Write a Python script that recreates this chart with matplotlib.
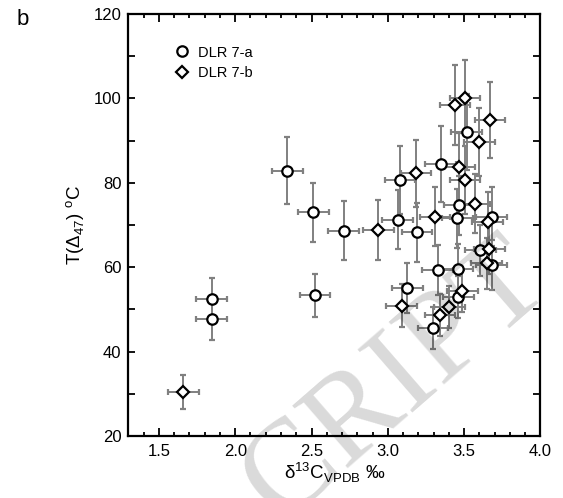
import matplotlib
matplotlib.use("Agg")
import matplotlib.pyplot as plt
from matplotlib.ticker import MultipleLocator, FormatStrFormatter
from matplotlib.lines import Line2D

plt.rcParams['font.family'] = ['Liberation Sans', 'DejaVu Sans']

# DLR 7-a (circles)
a_x = [1.846, 1.846, 2.341, 2.512, 2.523, 2.710, 3.079, 3.064, 3.191, 3.128,
       3.346, 3.326, 3.296, 3.455, 3.468, 3.457, 3.462, 3.516, 3.606, 3.680, 3.680]
a_y = [52.5, 47.7, 82.9, 73.0, 53.3, 68.6, 80.6, 71.2, 68.3, 55.1,
       84.4, 59.3, 45.5, 71.6, 74.7, 59.6, 52.9, 92.1, 64.0, 72.0, 60.5]
a_yerr = [5, 5, 8, 7, 5, 7, 8, 7, 7, 6,
          9, 6, 5, 7, 7, 6, 5, 9, 6, 7, 6]

# DLR 7-b (diamonds)
b_x = [1.660, 2.938, 3.090, 3.186, 3.309, 3.440, 3.505, 3.669, 3.599, 3.468,
       3.505, 3.571, 3.654, 3.665, 3.647, 3.488, 3.403, 3.341]
b_y = [30.5, 68.8, 50.9, 82.2, 72.0, 98.4, 100.2, 94.9, 89.7, 83.7,
       80.7, 75.0, 70.8, 64.3, 60.9, 54.4, 50.5, 48.7]
b_yerr = [4, 7, 5, 8, 7, 9.5, 9, 9, 8, 8,
          8, 7, 7, 6, 6, 5, 5, 5]

x_err = 0.1

fig = plt.figure(figsize=(5.63, 4.98), dpi=100)
ax = fig.add_axes([0.228, 0.1245, 0.732, 0.8475])

ebkw = dict(ecolor='#808080', elinewidth=1.4, capsize=2, capthick=1.4, ls='none')
ax.errorbar(a_x, a_y, xerr=x_err, yerr=a_yerr, fmt='o', ms=7.5, mfc='white',
            mec='black', mew=1.6, **ebkw)
ax.errorbar(b_x, b_y, xerr=x_err, yerr=b_yerr, fmt='D', ms=6.5, mfc='white',
            mec='black', mew=1.6, **ebkw)

ax.set_xlim(1.3, 4.0)
ax.set_ylim(20, 120)
ax.xaxis.set_major_locator(MultipleLocator(0.5))
ax.xaxis.set_minor_locator(MultipleLocator(0.1))
ax.yaxis.set_major_locator(MultipleLocator(20))
ax.yaxis.set_minor_locator(MultipleLocator(10))
ax.xaxis.set_major_formatter(FormatStrFormatter('%.1f'))
ax.tick_params(which='both', direction='in', top=True, right=True, width=1.3, labelsize=12)
ax.tick_params(axis='x', which='major', length=6, pad=6)
ax.tick_params(axis='x', which='minor', length=3)
ax.tick_params(axis='y', which='both', length=5, pad=5)
for s in ax.spines.values():
    s.set_linewidth(1.6)

ax.set_xlabel('δ$^{\\mathregular{13}}$C$_{\\mathregular{VPDB}}$ ‰', fontsize=13.5, labelpad=1)
ax.set_ylabel('T(Δ$_{\\mathregular{47}}$) $^{\\mathregular{o}}$C', fontsize=13.5, labelpad=5)

handles = [Line2D([], [], marker='o', ls='none', ms=7.5, mfc='white', mec='black', mew=1.6),
           Line2D([], [], marker='D', ls='none', ms=6.5, mfc='white', mec='black', mew=1.6)]
ax.legend(handles, ['DLR 7-a', 'DLR 7-b'], loc='upper left', bbox_to_anchor=(0.112, 0.925),
          borderaxespad=0, borderpad=0, frameon=False, fontsize=10.5,
          handletextpad=0.6, labelspacing=0.45, handlelength=1.0)

fig.text(0.04, 0.96, 'b', fontsize=16, ha='center', va='center')

# watermark
fig.text(0.705, 0.235, "CRIPT", rotation=41, fontsize=92, family='Liberation Serif',
         color=(0, 0, 0, 0.15), ha='center', va='center', zorder=10)

fig.savefig('out.png', dpi=100)
